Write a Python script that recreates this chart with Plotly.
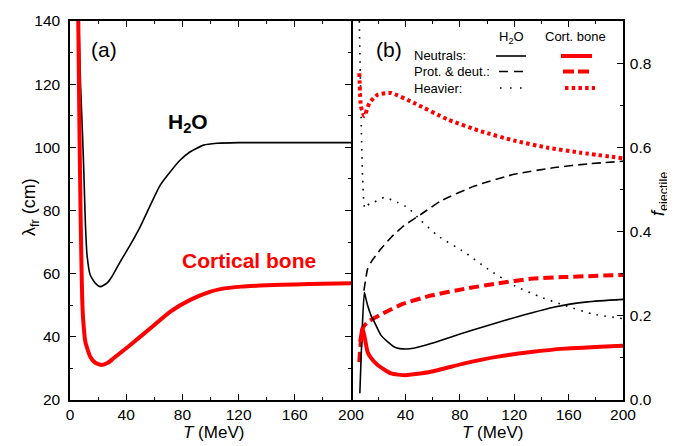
import plotly.graph_objects as go

# ---------------- data ----------------
# Panel (a): free path lambda_fr (cm) vs T (MeV)
T_a_h2o = [6.3, 7.5, 9.0, 10.0, 10.9, 12.1, 14.4, 18.0, 21.6, 26.3, 29.9, 35.8, 42.9, 50.0,
           57.2, 64.3, 71.4, 78.5, 85.6, 95.0, 104.6, 120.0, 140.0, 160.0, 180.0, 200.0]
lam_h2o = [140.0, 120.0, 103.0, 90.0, 76.5, 66.0, 59.6, 57.0, 55.9, 57.0, 59.1, 63.8, 69.1, 74.9,
           81.7, 88.1, 92.3, 96.0, 98.6, 100.7, 101.3, 101.5, 101.5, 101.5, 101.5, 101.5]

T_a_bone = [5.9, 6.8, 7.5, 8.2, 8.7, 9.3, 10.9, 14.4, 18.0, 22.5, 27.0, 31.0, 42.9, 57.2,
            71.4, 85.6, 100.0, 107.0, 122.0, 140.0, 160.0, 180.0, 200.0]
lam_bone = [140.0, 103.0, 80.0, 62.0, 52.0, 46.0, 38.5, 33.7, 31.8, 31.1, 31.8, 33.2, 37.4, 42.7,
            48.0, 51.7, 54.3, 55.1, 55.9, 56.3, 56.6, 56.8, 57.0]

# Panel (b): ejectile fractions vs T (MeV)
T_h2o_neut = [6.5, 8.0, 9.8, 11.0, 12.2, 14.7, 17.2, 22.0, 27.0, 31.9, 36.0, 40.5, 46.0,
              58.8, 78.5, 100.6, 125.0, 149.7, 174.0, 200.0]
f_h2o_neut = [0.016, 0.15, 0.256, 0.24, 0.225, 0.201, 0.185, 0.154, 0.138, 0.126, 0.122, 0.121,
              0.123, 0.134, 0.155, 0.177, 0.200, 0.221, 0.233, 0.239]

T_h2o_pd = [9.5, 12.2, 14.7, 22.0, 29.4, 39.0, 51.5, 66.2, 90.8, 120.0, 149.7, 175.0, 200.0]
f_h2o_pd = [0.26, 0.311, 0.327, 0.359, 0.386, 0.414, 0.441, 0.473, 0.508, 0.536, 0.552, 0.561, 0.567]

T_h2o_heavy = [6.1, 7.3, 8.5, 10.2, 13.5, 17.2, 24.5, 34.3, 41.7, 51.5, 63.8, 83.4, 100.6,
               120.0, 139.8, 157.0, 176.6, 200.0]
f_h2o_heavy = [0.9, 0.69, 0.532, 0.455, 0.466, 0.47, 0.481, 0.469, 0.457, 0.426, 0.39, 0.351,
               0.311, 0.272, 0.244, 0.225, 0.205, 0.193]

T_bone_neut = [6.8, 8.5, 10.0, 12.2, 14.7, 19.6, 29.4, 40.0, 58.8, 83.4, 108.0, 132.5, 157.0, 200.0]
f_bone_neut = [0.138, 0.17, 0.15, 0.114, 0.10, 0.083, 0.063, 0.059, 0.067, 0.087, 0.103, 0.114,
               0.122, 0.129]

T_bone_pd = [6.1, 8.5, 12.2, 22.0, 38.0, 58.8, 83.4, 108.0, 132.5, 157.0, 200.0]
f_bone_pd = [0.09, 0.17, 0.185, 0.203, 0.228, 0.248, 0.264, 0.277, 0.288, 0.292, 0.297]

T_bone_heavy = [6.1, 7.3, 9.8, 13.5, 19.6, 29.4, 46.6, 71.1, 95.7, 120.0, 144.8, 169.3, 200.0]
f_bone_heavy = [0.776, 0.697, 0.674, 0.705, 0.725, 0.729, 0.705, 0.666, 0.638, 0.616, 0.599,
                0.587, 0.574]

x_ticks_a = [0, 40, 80, 120, 160, 200]
x_ticks_b = [40, 80, 120, 160, 200]
y_ticks_b = [0.0, 0.2, 0.4, 0.6, 0.8]

# ---------------- styling ----------------
BLACK = "#000000"
RED = "#ff0000"
FONT = "Arial, Liberation Sans, sans-serif"
W, H = 675, 446
ML, MR, MT, MB = 62, 60, 13, 54
split = (343 - ML) / (W - ML - MR)

def px_x(px):
    return (px - ML) / (W - ML - MR)

def px_y(py):
    return (H - MB - py) / (H - MT - MB)

fig = go.Figure()

sm = dict(shape="spline", smoothing=0.5)
fig.add_trace(go.Scatter(x=T_a_h2o, y=lam_h2o, mode="lines", xaxis="x", yaxis="y",
                         line=dict(color=BLACK, width=1.6, **sm)))
fig.add_trace(go.Scatter(x=T_a_bone, y=lam_bone, mode="lines", xaxis="x", yaxis="y",
                         line=dict(color=RED, width=4, **sm)))

dash_k = "9px,5px"
dot_k = "1.6px,6.4px"
dash_r = "10px,5px"
dot_r = "3.5px,3.2px"
fig.add_trace(go.Scatter(x=T_h2o_heavy, y=f_h2o_heavy, mode="lines", xaxis="x2", yaxis="y2",
                         line=dict(color=BLACK, width=1.6, dash=dot_k, **sm)))
fig.add_trace(go.Scatter(x=T_bone_heavy, y=f_bone_heavy, mode="lines", xaxis="x2", yaxis="y2",
                         line=dict(color=RED, width=4, dash=dot_r, **sm)))
fig.add_trace(go.Scatter(x=T_h2o_pd, y=f_h2o_pd, mode="lines", xaxis="x2", yaxis="y2",
                         line=dict(color=BLACK, width=1.6, dash=dash_k, **sm)))
fig.add_trace(go.Scatter(x=T_bone_pd, y=f_bone_pd, mode="lines", xaxis="x2", yaxis="y2",
                         line=dict(color=RED, width=4, dash=dash_r, **sm)))
fig.add_trace(go.Scatter(x=T_h2o_neut, y=f_h2o_neut, mode="lines", xaxis="x2", yaxis="y2",
                         line=dict(color=BLACK, width=1.6, **sm)))
fig.add_trace(go.Scatter(x=T_bone_neut, y=f_bone_neut, mode="lines", xaxis="x2", yaxis="y2",
                         line=dict(color=RED, width=4, **sm)))

tickfont = dict(family=FONT, size=15.5, color=BLACK)
common = dict(showline=True, linecolor=BLACK, linewidth=1.5, ticks="inside", ticklen=6,
              tickwidth=1.2, tickcolor=BLACK, showgrid=False, zeroline=False, tickfont=tickfont,
              automargin=False)
minor_x = dict(dtick=20, tick0=0, ticks="inside", ticklen=3.5, tickwidth=1.2, tickcolor=BLACK,
               showgrid=False)

fig.update_layout(
    template="none",
    width=W, height=H, margin=dict(l=ML, r=MR, t=MT, b=MB),
    paper_bgcolor="white", plot_bgcolor="white", showlegend=False,
    xaxis=dict(domain=[0, split], range=[0, 200], tickvals=x_ticks_a, mirror="ticks",
               minor=minor_x, anchor="y", ticklabelstandoff=0, **common),
    yaxis=dict(domain=[0, 1], range=[20, 140], dtick=20, mirror="ticks", anchor="x",
               ticklabelstandoff=5,
               minor=dict(dtick=10, ticks="inside", ticklen=3.5, tickwidth=1.2, tickcolor=BLACK,
                          showgrid=False), **common),
    xaxis2=dict(domain=[split, 1], range=[0, 200], tickvals=x_ticks_b, mirror="ticks",
                minor=minor_x, anchor="y2", ticklabelstandoff=0, **common),
    yaxis2=dict(domain=[0, 1], range=[0, 0.9], tickvals=y_ticks_b, tickformat=".1f",
                side="right", mirror=False, anchor="x2", ticklabelstandoff=2,
                minor=dict(dtick=0.1, ticks="inside", ticklen=3.5, tickwidth=1.2, tickcolor=BLACK,
                           showgrid=False), **common),
)

# legend samples (panel b)
def seg(x0, x1, y, color, width, dash=None):
    fig.add_shape(type="line", xref="paper", yref="paper", x0=px_x(x0), x1=px_x(x1),
                  y0=px_y(y), y1=px_y(y), line=dict(color=color, width=width, dash=dash))

seg(488, 518, 48, BLACK, 1.6)
seg(553, 584, 48, RED, 4)
seg(491, 516, 63.5, BLACK, 1.6, "9px,6px")
seg(555, 583, 63.5, RED, 4, "11px,4px")
seg(492, 516, 80, BLACK, 1.6, "1.6px,8.4px")
seg(557, 587, 80, RED, 4, "3.5px,3.2px")

def ann(text, px, py, size, color=BLACK, xanchor="center", angle=0):
    fig.add_annotation(text=text, xref="paper", yref="paper", x=px_x(px), y=px_y(py),
                       xanchor=xanchor, yanchor="middle", showarrow=False, textangle=angle,
                       font=dict(family=FONT, size=size, color=color))

ann("Neutrals:", 404, 48, 13, xanchor="left")
ann("Prot. & deut.:", 404, 63.5, 13, xanchor="left")
ann("Heavier:", 404, 80, 13, xanchor="left")
ann("H<sub>2</sub>O", 503, 29, 13)
ann("Cort. bone", 567, 28, 13)

ann("(a)", 96, 42, 21)
ann("(b)", 381, 42, 21)
ann("<b>H<sub>2</sub>O</b>", 180, 115, 21)
ann("<b>Cortical bone</b>", 241, 252, 21, color=RED)

ann("<i>T</i> (MeV)", 205, 424, 17)
ann("<i>T</i> (MeV)", 484, 424, 17)
ann("λ<sub>fr</sub> (cm)", 22, 199, 18, angle=-90)
ann("<i>f</i><sub>ejectile</sub>", 651, 186, 18, angle=-90)

fig.write_html("out.html")
